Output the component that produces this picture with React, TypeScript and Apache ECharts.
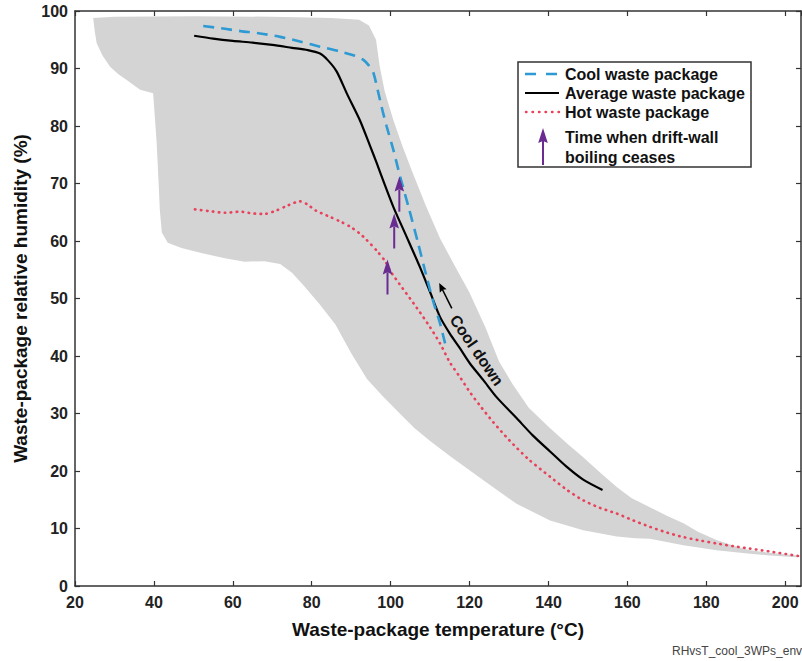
import React, { useEffect, useRef } from 'react';
import * as echarts from 'echarts';

// Temperature (°C) vs relative humidity (%)
const coolPkg: number[][] = [
  [52.5, 97.4], [58, 96.9], [62, 96.5], [66.9, 96.1], [72, 95.5], [77, 94.7], [82.1, 93.8],
  [87, 93.0], [91, 92.2], [93.1, 91.5], [94.5, 90.5], [95.6, 89.3], [96.8, 86], [98, 82.5],
  [99, 79.9], [100.7, 75.8], [102.4, 71.2], [104.5, 66.0], [107, 59.5], [109.1, 53.8],
  [111, 49.0], [112.5, 45.7], [113.8, 42.2],
];
const avgPkg: number[][] = [
  [50.2, 95.7], [55, 95.2], [60, 94.8], [65, 94.5], [70, 94.1], [75, 93.6], [79, 93.2],
  [82.1, 92.6], [84, 91.5], [86.3, 89.5], [89, 85.5], [92.2, 81.0], [94.8, 76.5], [96.5, 73.5],
  [98.5, 69.8], [100.7, 65.9], [104, 60.8], [107.4, 55.5], [110, 51.1], [112.5, 46.8],
  [115, 43.9], [117.5, 41.4], [120.1, 38.7], [123.5, 35.8], [126.9, 32.8], [131.9, 29.2],
  [136, 26.2], [140.4, 23.4], [144.5, 20.8], [148.8, 18.5], [153.7, 16.7],
];
const hotPkg: number[][] = [
  [50.4, 65.5], [54, 65.2], [58, 64.9], [61.8, 65.1], [65, 64.8], [68, 64.7], [71, 65.3],
  [74, 66.2], [77, 66.9], [79, 66.3], [81, 65.3], [84.6, 64.2], [87.2, 63.4], [89.7, 62.5],
  [92, 61.4], [93.9, 60.2], [96.5, 58.3], [98.6, 56.5], [99.8, 54.9], [103, 51.8],
  [106.6, 48.4], [110, 45.0], [112.5, 42.2], [115, 38.9], [117.6, 36.3], [120, 33.8],
  [122.6, 31.4], [126, 28.5], [130, 25.4], [135, 22.0], [140.4, 19.0], [144.5, 16.8],
  [148.8, 14.9], [153, 13.6], [157.3, 12.6], [161.5, 11.4], [165.7, 10.3], [170, 9.3],
  [174.2, 8.5], [178.5, 7.9], [182.6, 7.4], [187, 6.9], [191.1, 6.5], [197, 5.9], [203.5, 5.2],
];
// Envelope (gray band): upper edge left→right, lower edge right→left
const envUpper: number[][] = [
  [24.6, 98.8], [30, 99.0], [50, 99.1], [70, 99.0], [85, 98.8], [92, 98.5], [94.5, 97.5],
  [96.3, 95.0], [97.2, 90.5], [98.5, 86], [100.7, 81], [103, 76.5], [105.5, 72], [109, 66],
  [112.5, 60.5], [116, 56], [120, 51], [124, 45], [127.5, 39], [131, 35], [135, 31],
  [140, 27.7], [145, 24.6], [148.8, 22.4], [153, 19.8], [157.3, 17.2], [161, 15.3],
  [165.7, 13.7], [170, 12.2], [174.2, 10.9], [178, 9.4], [182.6, 8.0], [187, 7.0],
  [191.1, 6.2], [196, 5.8], [203, 5.3],
];
const envLower: number[][] = [
  [203, 5.0], [196, 5.3], [191.1, 5.6], [182.6, 6.2], [174.2, 7.1], [165.7, 8.2], [162, 8.3],
  [157.3, 8.6], [148.8, 9.7], [140.4, 11.4], [131.9, 14.3], [123.5, 18.4], [115, 22.6],
  [110, 25.2], [106, 27.5], [102, 30.2], [98, 33], [94, 36], [90, 40.5], [86, 45.5],
  [82, 49], [78, 52.2], [75, 54.5], [72, 56.0], [68, 56.5], [63, 56.4], [58, 57.0],
  [52, 57.9], [47, 58.8], [43.5, 59.7], [42, 61.5], [41.5, 65.4], [41.2, 70], [40.7, 77],
  [40.4, 80], [39.8, 85.7], [36.5, 86.3], [33.1, 88.0], [31, 89.0], [28.9, 90.3], [27, 92.2],
  [25.5, 94.4], [25.0, 96.5],
];
// Arrows: [xFrom, yFrom, xTo, yTo]
const boilingArrows: number[][] = [
  [102.2, 65.1, 102.2, 71.2],
  [100.9, 58.7, 100.9, 64.8],
  [99.2, 50.7, 99.2, 56.8],
];
const coolDownArrow: number[][] = [[115.5, 48.3, 112.3, 52.7]];
const coolDownLabel: number[] = [121.8, 41.0];
const legendLabels = ['Cool waste package', 'Average waste package', 'Hot waste package'];
const arrowLegendLines = ['Time when drift-wall', 'boiling ceases'];

const FONT = "'Liberation Sans', Arial, Helvetica, sans-serif";
const BLUE = '#2e9ad4';
const RED = '#e8415a';
const PURPLE = '#6a2c91';
const GRAY = '#d4d4d4';

function arrowRenderer(color: string, headLen: number, headHalf: number, lw: number) {
  return (params: any, api: any) => {
    const p1 = api.coord([api.value(0), api.value(1)]);
    const p2 = api.coord([api.value(2), api.value(3)]);
    const dx = p2[0] - p1[0];
    const dy = p2[1] - p1[1];
    const len = Math.hypot(dx, dy) || 1;
    const ux = dx / len;
    const uy = dy / len;
    const bx = p2[0] - ux * headLen;
    const by = p2[1] - uy * headLen;
    const nx = -uy;
    const ny = ux;
    return {
      type: 'group',
      children: [
        {
          type: 'line',
          shape: { x1: p1[0], y1: p1[1], x2: bx + ux * 2, y2: by + uy * 2 },
          style: { stroke: color, lineWidth: lw },
        },
        {
          type: 'polygon',
          shape: {
            points: [
              [p2[0], p2[1]],
              [bx + nx * headHalf, by + ny * headHalf],
              [bx + ux * headLen * 0.15, by + uy * headLen * 0.15],
              [bx - nx * headHalf, by - ny * headHalf],
            ],
          },
          style: { fill: color },
        },
      ],
    };
  };
}

export default function App() {
  const ref = useRef<HTMLDivElement>(null);
  useEffect(() => {
    if (!ref.current) return;
    const chart = echarts.init(ref.current, null, { renderer: 'svg' });
    const axisCommon = {
      min: 20,
      max: 204,
      interval: 20,
      axisLine: { show: true, onZero: false, lineStyle: { color: '#333', width: 1.5 } },
      axisTick: { show: true, inside: true, length: 5, lineStyle: { color: '#333', width: 1.2 } },
      splitLine: { show: false },
    };
    const yCommon = {
      min: 0,
      max: 100,
      interval: 10,
      axisLine: { show: true, onZero: false, lineStyle: { color: '#333', width: 1.5 } },
      axisTick: { show: true, inside: true, length: 5, lineStyle: { color: '#333', width: 1.2 } },
      splitLine: { show: false },
    };
    const option: any = {
      animation: false,
      backgroundColor: '#fff',
      grid: { left: 75, top: 11, right: 1, bottom: 75, containLabel: false },
      xAxis: [
        {
          type: 'value',
          position: 'bottom',
          ...axisCommon,
          name: 'Waste-package temperature (°C)',
          nameLocation: 'middle',
          nameGap: 34,
          nameTextStyle: { fontFamily: FONT, fontSize: 19, fontWeight: 'bold', color: '#111' },
          axisLabel: {
            show: true,
            showMaxLabel: false,
            margin: 8,
            fontFamily: FONT,
            fontSize: 16,
            fontWeight: 'bold',
            color: '#222',
          },
        },
        { type: 'value', position: 'top', ...axisCommon, axisLabel: { show: false } },
      ],
      yAxis: [
        {
          type: 'value',
          position: 'left',
          ...yCommon,
          name: 'Waste-package relative humidity (%)',
          nameLocation: 'middle',
          nameGap: 44,
          nameTextStyle: { fontFamily: FONT, fontSize: 19, fontWeight: 'bold', color: '#111' },
          axisLabel: {
            show: true,
            margin: 7,
            fontFamily: FONT,
            fontSize: 16,
            fontWeight: 'bold',
            color: '#222',
          },
        },
        { type: 'value', position: 'right', ...yCommon, axisLabel: { show: false } },
      ],
      series: [
        {
          type: 'custom',
          name: 'envelope',
          z: 1,
          silent: true,
          data: [[envUpper[0][0], envUpper[0][1]]],
          renderItem: (params: any, api: any) => {
            const pts = envUpper.concat(envLower).map((p) => api.coord(p));
            return { type: 'polygon', shape: { points: pts }, style: { fill: GRAY } };
          },
        },
        {
          type: 'line',
          name: legendLabels[2],
          data: hotPkg,
          showSymbol: false,
          smooth: 0.25,
          z: 3,
          lineStyle: { color: RED, width: 2.6, type: [0.5, 5.5], cap: 'round' },
        },
        {
          type: 'line',
          name: legendLabels[1],
          data: avgPkg,
          showSymbol: false,
          smooth: 0.25,
          z: 4,
          lineStyle: { color: '#000', width: 2.2, type: 'solid' },
        },
        {
          type: 'line',
          name: legendLabels[0],
          data: coolPkg,
          showSymbol: false,
          smooth: 0.25,
          z: 5,
          lineStyle: { color: BLUE, width: 2.6, type: [11, 7] },
        },
        {
          type: 'custom',
          name: 'boiling',
          z: 6,
          data: boilingArrows,
          encode: { x: [0, 2], y: [1, 3] },
          renderItem: arrowRenderer(PURPLE, 15, 4.8, 2),
        },
        {
          type: 'custom',
          name: 'cooldown',
          z: 6,
          data: coolDownArrow,
          encode: { x: [0, 2], y: [1, 3] },
          renderItem: arrowRenderer('#000', 9, 3.8, 1.6),
        },
      ],
    };
    chart.setOption(option);

    const lp = chart.convertToPixel({ gridIndex: 0 }, coolDownLabel) as number[];
    const lx = 525;
    const lx2 = 559;
    const tx = 565;
    const rows = [74, 93, 112];
    const textStyle = (t: string, x: number, y: number) => ({
      type: 'text',
      z: 100,
      x,
      y,
      style: {
        text: t,
        fontFamily: FONT,
        fontSize: 16,
        fontWeight: 'bold',
        fill: '#111',
        align: 'left',
        verticalAlign: 'middle',
      },
    });
    chart.setOption({
      graphic: [
        {
          type: 'rect',
          z: 99,
          shape: { x: 518, y: 62, width: 233, height: 105 },
          style: { fill: '#fff', stroke: '#333', lineWidth: 1.5 },
        },
        {
          type: 'line',
          z: 100,
          shape: { x1: lx, y1: rows[0], x2: lx2, y2: rows[0] },
          style: { stroke: BLUE, lineWidth: 2.6, lineDash: [11, 10] },
        },
        {
          type: 'line',
          z: 100,
          shape: { x1: lx, y1: rows[1], x2: lx2, y2: rows[1] },
          style: { stroke: '#000', lineWidth: 1.8 },
        },
        {
          type: 'line',
          z: 100,
          shape: { x1: lx + 1, y1: rows[2], x2: lx2, y2: rows[2] },
          style: { stroke: RED, lineWidth: 2.4, lineDash: [0.5, 6], lineCap: 'round' },
        },
        textStyle(legendLabels[0], tx, rows[0]),
        textStyle(legendLabels[1], tx, rows[1]),
        textStyle(legendLabels[2], tx, rows[2]),
        {
          type: 'line',
          z: 100,
          shape: { x1: 543, y1: 165, x2: 543, y2: 140 },
          style: { stroke: PURPLE, lineWidth: 2 },
        },
        {
          type: 'polygon',
          z: 100,
          shape: { points: [[543, 128], [547.8, 143], [543, 141], [538.2, 143]] },
          style: { fill: PURPLE },
        },
        textStyle(arrowLegendLines[0], tx, 137),
        textStyle(arrowLegendLines[1], tx, 157),
        {
          type: 'text',
          z: 100,
          x: lp[0],
          y: lp[1],
          rotation: -0.967,
          style: {
            text: 'Cool down',
            fontFamily: FONT,
            fontSize: 16,
            fontWeight: 'bold',
            fill: '#111',
            align: 'center',
            verticalAlign: 'middle',
          },
        },
        {
          type: 'text',
          z: 100,
          x: 672,
          y: 651,
          style: {
            text: 'RHvsT_cool_3WPs_env',
            fontFamily: FONT,
            fontSize: 12,
            fill: '#444',
            align: 'left',
            verticalAlign: 'middle',
          },
        },
      ],
    });
    return () => chart.dispose();
  }, []);
  return (
    <div
      ref={ref}
      style={{ position: 'absolute', left: 0, top: 0, width: 802, height: 661, background: '#fff' }}
    />
  );
}
